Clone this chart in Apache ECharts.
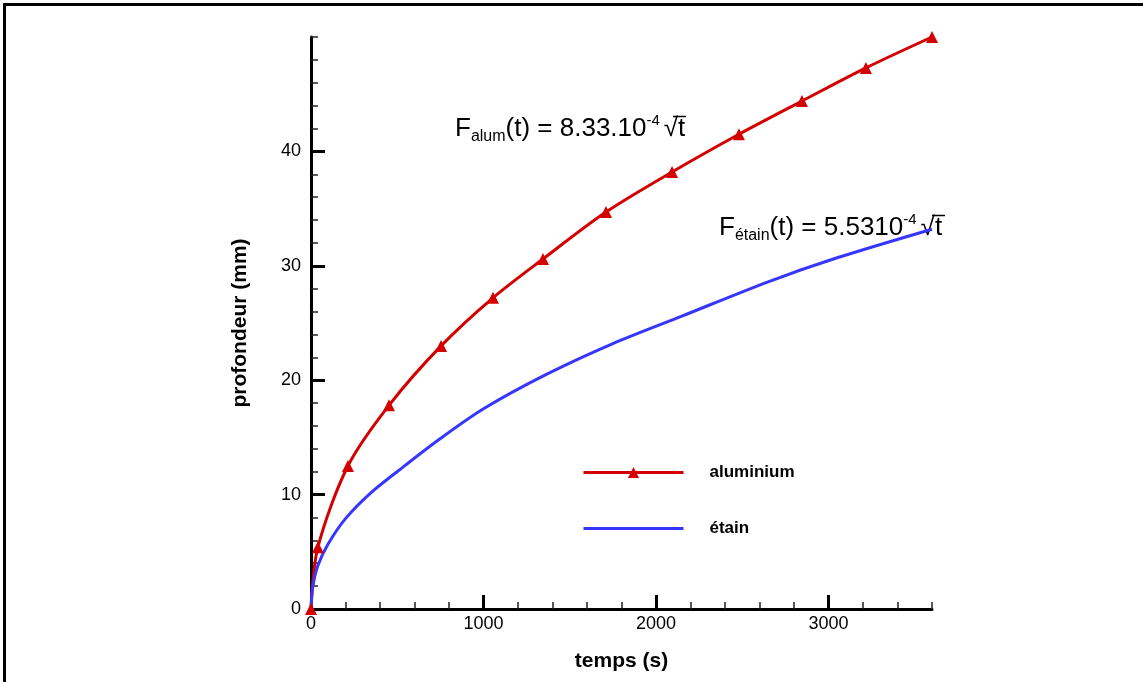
<!DOCTYPE html>
<html>
<head>
<meta charset="utf-8">
<script src="https://cdn.jsdelivr.net/npm/echarts@6/dist/echarts.min.js"></script>
<style>
html,body{margin:0;padding:0;background:#fff;}
#chart{width:1143px;height:682px;}
</style>
</head>
<body>
<div id="chart"></div>
<script>
// ---- data ----
const tempsAlum = [0, 40, 214, 452, 754, 1055, 1345, 1710, 2093, 2481, 2846, 3217, 3600];
const profAlum  = [0, 5.4, 12.5, 17.8, 23.0, 27.2, 30.6, 34.7, 38.2, 41.5, 44.4, 47.3, 50.0];
const tempsEtain = [0, 10, 40, 100, 200, 350, 550, 750, 1000, 1350, 1750, 2150, 2650, 3050, 3600];
const profEtain  = [0, 1.9, 3.8, 5.7, 7.9, 10.2, 12.6, 14.9, 17.5, 20.4, 23.2, 25.6, 28.6, 30.7, 33.2];
const xMajorTicks = [0, 1000, 2000, 3000];
const yMajorTicks = [0, 10, 20, 30, 40];
const seriesNames = ['aluminium', 'étain'];

const FONT = '"Liberation Sans", Arial, sans-serif';
const RED = '#d40000';
const BLUE = '#3636ff';

const chart = echarts.init(document.getElementById('chart'), null, {renderer: 'canvas'});
const gridPos = {left: 311, right: 211, top: 37, bottom: 73, containLabel: false};

const richStyles = {
  m: {fontSize: 26, fontFamily: FONT, color: '#000', lineHeight: 32},
  s: {fontSize: 16, fontFamily: FONT, color: '#000', lineHeight: 14, verticalAlign: 'bottom'},
  p: {fontSize: 15, fontFamily: FONT, color: '#000', lineHeight: 19, verticalAlign: 'top'},
  r: {fontSize: 26, fontFamily: FONT, color: '#000', lineHeight: 32, padding: [0, 0, 0, 4]}
};

const option = {
  animation: false,
  backgroundColor: '#fff',
  grid: [Object.assign({}, gridPos), Object.assign({}, gridPos)],
  xAxis: [
    { type: 'value', gridIndex: 0, min: 0, max: 3600, interval: 200,
      axisLine: {show: true, lineStyle: {color: '#000', width: 3}},
      axisTick: {show: true, inside: true, length: 7, lineStyle: {color: '#222', width: 1.5}},
      axisLabel: {show: false}, splitLine: {show: false} },
    { type: 'value', gridIndex: 1, min: 0, max: 3600, interval: 1000,
      axisLine: {show: false},
      axisTick: {show: true, inside: true, length: 14, customValues: xMajorTicks, lineStyle: {color: '#000', width: 3}},
      axisLabel: {show: true, customValues: xMajorTicks, margin: 6, color: '#000', fontSize: 18, fontFamily: FONT,
                  formatter: v => String(v)},
      splitLine: {show: false},
      name: 'temps (s)', nameLocation: 'middle', nameGap: 42,
      nameTextStyle: {color: '#000', fontSize: 21, fontWeight: 'bold', fontFamily: FONT} }
  ],
  yAxis: [
    { type: 'value', gridIndex: 0, min: 0, max: 50, interval: 2,
      axisLine: {show: true, lineStyle: {color: '#000', width: 3}},
      axisTick: {show: true, inside: true, length: 7, lineStyle: {color: '#222', width: 1.5}},
      axisLabel: {show: false}, splitLine: {show: false} },
    { type: 'value', gridIndex: 1, min: 0, max: 50, interval: 10,
      axisLine: {show: false},
      axisTick: {show: true, inside: true, length: 14, customValues: yMajorTicks, lineStyle: {color: '#000', width: 3}},
      axisLabel: {show: true, customValues: yMajorTicks, margin: 10, color: '#000', fontSize: 18, fontFamily: FONT,
                  formatter: v => String(v)},
      splitLine: {show: false},
      name: 'profondeur (mm)', nameLocation: 'middle', nameGap: 60, nameRotate: 90,
      nameTextStyle: {color: '#000', fontSize: 21, fontWeight: 'bold', fontFamily: FONT} }
  ],
  legend: {
    orient: 'vertical', left: 582, top: 464, padding: 0, itemWidth: 100, itemHeight: 14, itemGap: 39,
    data: [{name: seriesNames[0]}, {name: seriesNames[1], itemStyle: {opacity: 0}}],
    lineStyle: {width: 3},
    textStyle: {color: '#000', fontSize: 17, fontWeight: 'bold', fontFamily: FONT, padding: [0, 0, 0, 21]}
  },
  series: [
    { name: seriesNames[0], type: 'line', xAxisIndex: 0, yAxisIndex: 0,
      data: tempsAlum.map((t, i) => [t, profAlum[i]]),
      smooth: 0.3,
      symbol: 'triangle', symbolSize: 12, showAllSymbol: true, clip: false,
      lineStyle: {color: RED, width: 3}, itemStyle: {color: RED} },
    { name: seriesNames[1], type: 'line', xAxisIndex: 0, yAxisIndex: 0,
      data: tempsEtain.map((t, i) => [t, profEtain[i]]),
      smooth: 0.3, showSymbol: false,
      lineStyle: {color: BLUE, width: 3}, itemStyle: {color: BLUE} }
  ],
  graphic: [
    {type: 'line', shape: {x1: 3, y1: 4.5, x2: 1143, y2: 4.5}, style: {stroke: '#000', lineWidth: 3}},
    {type: 'line', shape: {x1: 4.5, y1: 3, x2: 4.5, y2: 682}, style: {stroke: '#000', lineWidth: 3}},
    {type: 'text', x: 455, y: 113, style: {
      text: '{m|F}{s|alum}{m|(t) = 8.33.10}{p|-4}{r|√t}', rich: richStyles}},
    {type: 'line', shape: {x1: 673, y1: 116.5, x2: 686, y2: 116.5}, style: {stroke: '#000', lineWidth: 1.5}},
    {type: 'text', x: 719, y: 212, style: {
      text: '{m|F}{s|étain}{m|(t) = 5.5310}{p|-4}{r|√t}', rich: richStyles}},
    {type: 'line', shape: {x1: 932, y1: 215.5, x2: 945, y2: 215.5}, style: {stroke: '#000', lineWidth: 1.5}}
  ]
};
chart.setOption(option);
</script>
</body>
</html>
